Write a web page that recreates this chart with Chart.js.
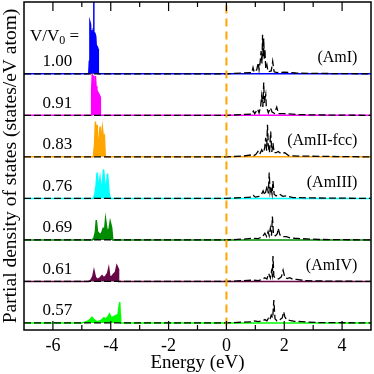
<!DOCTYPE html>
<html>
<head>
<meta charset="utf-8">
<script src="https://cdn.jsdelivr.net/npm/chart.js@4.4.1/dist/chart.umd.min.js"></script>
<style>
  html, body { margin: 0; padding: 0; background: #fff; }
  canvas { display: block; }
</style>
</head>
<body>
<canvas id="myChart" width="374" height="374"></canvas>
<script>
// panel labels, top to bottom
const VOLUMES = ['1.00', '0.91', '0.83', '0.76', '0.69', '0.61', '0.57'];
const PHASES = ['(AmI)', '', '(AmII-fcc)', '(AmIII)', '', '(AmIV)', ''];
const X_TICKS = [-6, -4, -2, 0, 2, 4];
const X_MINOR = [-5, -3, -1, 1, 3];
const FERMI = 0;

// filled (occupied) curves: energy (eV) and PDOS
const fE_100 = [-7, -4.76, -4.74, -4.72, -4.70, -4.68, -4.65, -4.62, -4.60, -4.59, -4.58, -4.55, -4.52, -4.50, -4.47, -4.44, -4.43, 5];
const fY_100 = [0, 0, 0.3, 1.25, 1.2, 0.85, 1.05, 0.9, 1.1, 2.4, 1.0, 0.98, 0.9, 0.65, 0.66, 0.6, 0, 0];
const fE_091 = [-7, -4.68, -4.66, -4.64, -4.61, -4.59, -4.57, -4.55, -4.53, -4.51, -4.48, -4.44, -4.40, -4.37, -4.36, 5];
const fY_091 = [0, 0, 0.6, 0.98, 0.95, 0.8, 0.25, 0.3, 0.95, 0.7, 0.6, 0.55, 0.5, 0.45, 0, 0];
const fE_083 = [-7, -4.60, -4.56, -4.53, -4.50, -4.47, -4.44, -4.41, -4.37, -4.33, -4.29, -4.25, -4.22, -4.19, 5];
const fY_083 = [0, 0, 0.3, 0.85, 0.5, 0.77, 0.25, 0.3, 0.73, 0.4, 0.7, 0.45, 0.5, 0, 0];
const fE_076 = [-7, -4.60, -4.55, -4.51, -4.47, -4.42, -4.37, -4.31, -4.25, -4.18, -4.11, -4.06, -4.02, 5];
const fY_076 = [0, 0, 0.1, 0.3, 0.62, 0.2, 0.5, 0.15, 0.7, 0.15, 0.6, 0.15, 0, 0];
const fE_069 = [-7, -4.64, -4.58, -4.53, -4.50, -4.46, -4.40, -4.35, -4.30, -4.26, -4.21, -4.18, -4.14, -4.10, -4.05, -4.02, -3.97, -3.93, 5];
const fY_069 = [0, 0, 0.05, 0.2, 0.48, 0.2, 0.15, 0.12, 0.2, 0.28, 0.25, 0.5, 0.3, 0.15, 0.3, 0.44, 0.3, 0, 0];
const fE_061 = [-7, -4.76, -4.68, -4.62, -4.58, -4.53, -4.47, -4.38, -4.30, -4.24, -4.18, -4.11, -4.07, -4.03, -3.97, -3.90, -3.84, -3.79, -3.74, -3.73, 5];
const fY_061 = [0, 0, 0.04, 0.12, 0.26, 0.1, 0.05, 0.08, 0.14, 0.09, 0.12, 0.2, 0.32, 0.1, 0.12, 0.18, 0.22, 0.38, 0.3, 0, 0];
const fE_057 = [-7, -5.02, -4.90, -4.80, -4.72, -4.65, -4.58, -4.48, -4.38, -4.30, -4.24, -4.17, -4.10, -4.04, -3.98, -3.90, -3.82, -3.75, -3.69, -3.67, -3.66, 5];
const fY_057 = [0, 0, 0.02, 0.04, 0.08, 0.14, 0.08, 0.03, 0.05, 0.08, 0.12, 0.1, 0.15, 0.22, 0.12, 0.15, 0.18, 0.2, 0.5, 0.2, 0, 0];

// dashed (unoccupied) curves
const dE_100 = [-7, 0, 0.6, 0.88, 0.92, 0.96, 1.05, 1.10, 1.13, 1.17, 1.20, 1.23, 1.25, 1.27, 1.29, 1.31, 1.33, 1.36, 1.40, 1.44, 1.55, 1.60, 1.65, 1.75, 2.0, 2.4, 3.0, 5];
const dY_100 = [0, 0, 0.02, 0.03, 0.15, 0.04, 0.1, 0.27, 0.1, 0.3, 0.55, 0.25, 0.94, 0.4, 0.85, 0.35, 0.6, 0.12, 0.22, 0.05, 0.07, 0.3, 0.05, 0.03, 0.04, 0.02, 0.01, 0];
const dE_091 = [-7, 0, 0.6, 0.88, 0.93, 0.98, 1.08, 1.13, 1.18, 1.22, 1.26, 1.29, 1.31, 1.33, 1.36, 1.38, 1.41, 1.45, 1.52, 1.58, 1.66, 1.74, 1.80, 2.0, 2.5, 3.0, 5];
const dY_091 = [0, 0, 0.02, 0.03, 0.1, 0.04, 0.15, 0.06, 0.2, 0.47, 0.2, 0.79, 0.3, 0.39, 0.5, 0.2, 0.15, 0.06, 0.18, 0.08, 0.05, 0.2, 0.04, 0.04, 0.02, 0.01, 0];
const dE_083 = [-7, 0, 0.6, 0.9, 0.95, 1.02, 1.09, 1.15, 1.22, 1.27, 1.32, 1.36, 1.39, 1.42, 1.45, 1.49, 1.53, 1.57, 1.61, 1.65, 1.72, 1.79, 1.88, 2.02, 2.15, 2.5, 3.5, 5];
const dY_083 = [0, 0, 0.02, 0.05, 0.03, 0.06, 0.13, 0.06, 0.17, 0.1, 0.2, 0.46, 0.15, 0.77, 0.25, 0.1, 0.61, 0.12, 0.33, 0.1, 0.1, 0.13, 0.08, 0.1, 0.03, 0.02, 0.01, 0];
const dE_076 = [-7, 0, 0.6, 0.88, 0.93, 1.0, 1.12, 1.2, 1.27, 1.33, 1.41, 1.45, 1.48, 1.51, 1.54, 1.58, 1.61, 1.65, 1.72, 1.84, 1.95, 2.07, 2.3, 3.0, 5];
const dY_076 = [0, 0, 0.02, 0.03, 0.07, 0.03, 0.05, 0.08, 0.18, 0.08, 0.3, 0.12, 0.62, 0.15, 0.26, 0.1, 0.42, 0.1, 0.06, 0.1, 0.05, 0.06, 0.02, 0.01, 0];
const dE_069 = [-7, 0, 0.6, 0.92, 1.1, 1.25, 1.33, 1.39, 1.44, 1.48, 1.52, 1.56, 1.59, 1.63, 1.7, 1.76, 1.79, 1.85, 1.95, 2.07, 2.2, 2.36, 2.6, 3.2, 5];
const dY_069 = [0, 0, 0.02, 0.04, 0.03, 0.08, 0.16, 0.08, 0.2, 0.1, 0.28, 0.1, 0.56, 0.12, 0.1, 0.15, 0.28, 0.12, 0.08, 0.08, 0.05, 0.04, 0.03, 0.01, 0];
const dE_061 = [-7, 0, 0.6, 0.92, 1.1, 1.25, 1.33, 1.40, 1.46, 1.52, 1.56, 1.59, 1.61, 1.64, 1.70, 1.80, 1.90, 1.96, 2.02, 2.10, 2.19, 2.30, 2.42, 2.7, 3.3, 5];
const dY_061 = [0, 0, 0.02, 0.03, 0.02, 0.05, 0.09, 0.06, 0.19, 0.08, 0.25, 0.15, 0.61, 0.12, 0.08, 0.06, 0.11, 0.27, 0.1, 0.07, 0.09, 0.05, 0.05, 0.02, 0.01, 0];
const dE_057 = [-7, 0, 0.6, 0.92, 0.98, 1.1, 1.25, 1.33, 1.40, 1.45, 1.50, 1.55, 1.60, 1.64, 1.68, 1.75, 1.85, 1.93, 1.98, 2.02, 2.08, 2.19, 2.35, 2.6, 3.2, 5];
const dY_057 = [0, 0, 0.02, 0.03, 0.05, 0.03, 0.05, 0.08, 0.05, 0.11, 0.07, 0.19, 0.12, 0.55, 0.1, 0.05, 0.08, 0.12, 0.27, 0.15, 0.08, 0.06, 0.04, 0.03, 0.01, 0];

const COLORS = ['#0000ff', '#ff00ff', '#ffa500', '#00ffff', '#008b00', '#670748', '#00ff00'];

const PANELS = [
  [fE_100, fY_100, dE_100, dY_100],
  [fE_091, fY_091, dE_091, dY_091],
  [fE_083, fY_083, dE_083, dY_083],
  [fE_076, fY_076, dE_076, dY_076],
  [fE_069, fY_069, dE_069, dY_069],
  [fE_061, fY_061, dE_061, dY_061],
  [fE_057, fY_057, dE_057, dY_057],
];

// vertical shift between stacked panels
const offsetOf = i => PANELS.length - 1 - i;

let datasets = [];
PANELS.forEach((p, i) => {
  const off = offsetOf(i);
  datasets.push({
    data: p[0].map((e, j) => ({x: e, y: p[1][j] + off})),
    borderColor: COLORS[i],
    backgroundColor: COLORS[i],
    borderWidth: 1.5,
    fill: {value: off},
    pointRadius: 0,
    order: 2,
  });
  datasets.push({
    data: p[2].map((e, j) => ({x: e, y: p[3][j] + off})),
    borderColor: '#000',
    borderWidth: 1.3,
    borderDash: [7, 3],
    fill: false,
    pointRadius: 0,
    order: 1,
  });
});
datasets.push({
  data: [{x: FERMI, y: -1}, {x: FERMI, y: 9}],
  borderColor: '#ffa500',
  borderWidth: 2,
  borderDash: [8, 5],
  fill: false,
  pointRadius: 0,
  order: 0,
});

const overlay = {
  id: 'overlay',
  afterDatasetsDraw(chart) {
    const {ctx, chartArea: a} = chart;
    const x = chart.scales.x, y = chart.scales.y;
    ctx.save();
    ctx.strokeStyle = '#000';
    ctx.lineWidth = 1.5;
    ctx.strokeRect(a.left, a.top, a.right - a.left, a.bottom - a.top);
    ctx.lineWidth = 1.2;
    const tick = (v, len) => {
      const px = x.getPixelForValue(v);
      ctx.beginPath();
      ctx.moveTo(px, a.bottom); ctx.lineTo(px, a.bottom - len);
      ctx.moveTo(px, a.top); ctx.lineTo(px, a.top + len);
      ctx.stroke();
    };
    X_TICKS.forEach(v => tick(v, 9));
    X_MINOR.forEach(v => tick(v, 5));

    ctx.fillStyle = '#000';
    ctx.textBaseline = 'alphabetic';
    ctx.font = '17px "Liberation Serif"';
    ctx.textAlign = 'center';
    VOLUMES.forEach((t, i) => {
      ctx.fillText(t, x.getPixelForValue(-5.85), y.getPixelForValue(offsetOf(i) + 0.18));
    });
    ctx.font = '16px "Liberation Serif"';
    ctx.textAlign = 'right';
    PHASES.forEach((t, i) => {
      if (t) ctx.fillText(t, x.getPixelForValue(4.53), y.getPixelForValue(offsetOf(i) + 0.28));
    });

    // V/V0 =
    ctx.textAlign = 'left';
    const bx = x.getPixelForValue(-5.94), by = y.getPixelForValue(offsetOf(0) + 0.8);
    const p1 = 'V/V', p2 = '0', p3 = ' =';
    ctx.font = '17px "Liberation Serif"';
    const w1 = ctx.measureText(p1).width, w3 = ctx.measureText(p3).width;
    ctx.font = '12px "Liberation Serif"';
    const w2 = ctx.measureText(p2).width;
    let cx = bx - (w1 + w2 + w3) / 2;
    ctx.font = '17px "Liberation Serif"';
    ctx.fillText(p1, cx, by);
    ctx.font = '12px "Liberation Serif"';
    ctx.fillText(p2, cx + w1, by + 3);
    ctx.font = '17px "Liberation Serif"';
    ctx.fillText(p3, cx + w1 + w2, by);
    ctx.restore();
  }
};

Chart.defaults.font.family = '"Liberation Serif", serif';
Chart.defaults.color = '#000';

let ctx = document.getElementById('myChart').getContext('2d');
let myChart = new Chart(ctx, {
  type: 'line',
  data: { datasets: datasets },
  options: {
    responsive: false,
    animation: false,
    devicePixelRatio: 1,
    layout: { padding: { top: 2, right: 3, left: 0, bottom: 0 } },
    plugins: { legend: { display: false }, tooltip: { enabled: false } },
    scales: {
      x: {
        type: 'linear', min: -7, max: 5,
        afterBuildTicks: s => { s.ticks = X_TICKS.map(v => ({value: v})); },
        afterFit: s => { s.height = 44; },
        grid: { display: false, drawTicks: false },
        border: { display: false },
        ticks: { font: { size: 18 }, color: '#000', padding: 5, maxRotation: 0, autoSkip: false },
        title: { display: true, text: 'Energy (eV)', font: { size: 19 }, color: '#000', padding: { top: 0, bottom: 0 } }
      },
      y: {
        min: -0.17, max: 7.73,
        afterFit: s => { s.width = 24; },
        grid: { display: false, drawTicks: false },
        border: { display: false },
        ticks: { display: false },
        title: { display: true, text: 'Partial density of states (states/eV atom)', font: { size: 19.5, lineHeight: 1.1 }, color: '#000', padding: { top: 0, bottom: 0 } }
      }
    }
  },
  plugins: [overlay]
});
</script>
</body>
</html>
